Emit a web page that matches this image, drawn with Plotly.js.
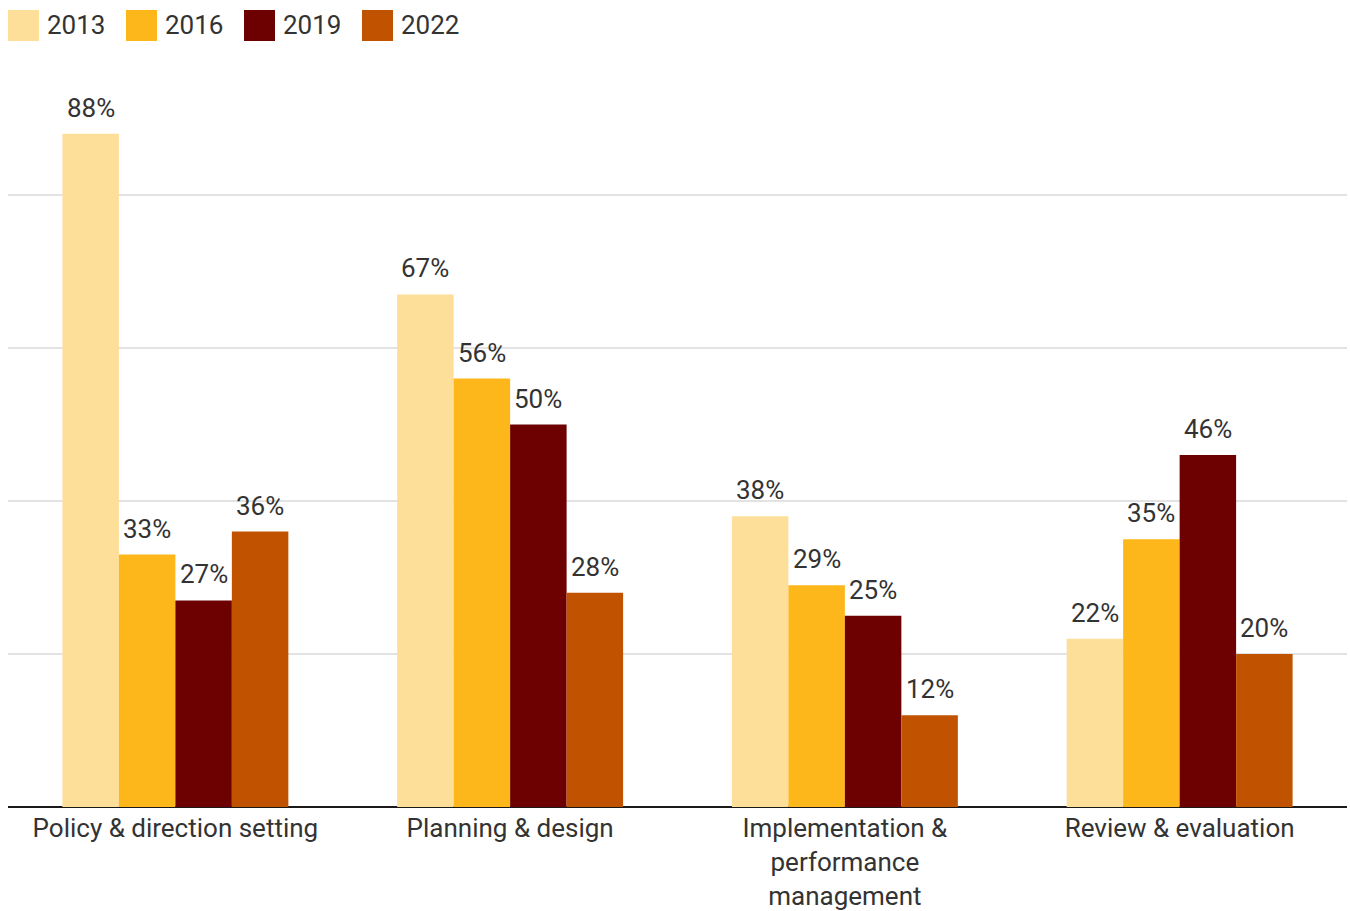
<!DOCTYPE html>
<html>
<head>
<meta charset="utf-8">
<script src="https://cdn.plot.ly/plotly-3.0.1.min.js"></script>
<style>html,body{margin:0;padding:0;background:#fff;}#chart{width:1350px;height:911px;}</style>
</head>
<body>
<div id="chart"></div>
<script>
const categories = ["Policy & direction setting", "Planning & design", "Implementation &<br>performance<br>management", "Review & evaluation"];
const seriesNames = ["2013", "2016", "2019", "2022"];
const values2013 = [88, 67, 38, 22];
const values2016 = [33, 56, 29, 35];
const values2019 = [27, 50, 25, 46];
const values2022 = [36, 28, 12, 20];
const colors = ["#FDDF99", "#FDB71A", "#6D0000", "#C15200"];

const seriesValues = [values2013, values2016, values2019, values2022];
const xIdx = categories.map((c, i) => i);
const bargap = 0.325;
const barW = (1 - bargap) / seriesNames.length;
const FONT = "Roboto, 'Open Sans', sans-serif";
const TXT = "#333333";

const traces = seriesNames.map((name, j) => ({
  type: "bar",
  name: name,
  x: xIdx,
  y: seriesValues[j],
  marker: {color: colors[j], line: {width: 0}},
  hoverinfo: "skip",
  showlegend: false
}));

const annotations = [];
seriesValues.forEach((vals, j) => {
  vals.forEach((v, i) => {
    annotations.push({
      x: i + (j - (seriesNames.length - 1) / 2) * barW,
      y: v,
      xref: "x", yref: "y",
      text: v + "%",
      showarrow: false,
      yanchor: "bottom",
      yshift: 9,
      font: {family: FONT, size: 26, color: TXT}
    });
  });
});

// custom legend (pixel layout converted to paper coords)
const L = 8, R = 3, T = 42, B = 104, W = 1350, H = 911;
const pw = W - L - R, ph = H - T - B;
const px2x = p => (p - L) / pw;
const py2y = p => (H - B - p) / ph;
const shapes = [];
seriesNames.forEach((name, j) => {
  const x0 = 8 + j * 118;
  shapes.push({
    type: "rect", xref: "paper", yref: "paper",
    x0: px2x(x0), x1: px2x(x0 + 31),
    y0: py2y(41), y1: py2y(10),
    fillcolor: colors[j], line: {width: 0}
  });
  annotations.push({
    xref: "paper", yref: "paper",
    x: px2x(x0 + 37), y: py2y(25),
    xanchor: "left", yanchor: "middle",
    text: name, showarrow: false,
    font: {family: FONT, size: 26, color: TXT}
  });
});

const layout = {
  width: W, height: H,
  margin: {l: L, r: R, t: T, b: B},
  paper_bgcolor: "#fff", plot_bgcolor: "#fff",
  barmode: "group",
  bargap: bargap,
  bargroupgap: 0,
  showlegend: false,
  xaxis: {
    tickvals: xIdx,
    ticktext: categories,
    range: [-0.5, categories.length - 0.5],
    showgrid: false,
    showline: false,
    zeroline: false,
    ticks: "",
    ticklabelstandoff: 3,
    tickfont: {family: FONT, size: 26, color: TXT},
    fixedrange: true
  },
  yaxis: {
    range: [0, 100],
    tickvals: [0, 20, 40, 60, 80],
    showticklabels: false,
    showgrid: true,
    gridcolor: "#e3e3e3",
    gridwidth: 2,
    zeroline: true,
    zerolinecolor: "#1a1a1a",
    zerolinewidth: 2.5,
    ticks: "",
    fixedrange: true
  },
  annotations: annotations,
  shapes: shapes,
  font: {family: FONT, color: TXT}
};

Plotly.newPlot("chart", traces, layout, {displayModeBar: false, staticPlot: true});
</script>
</body>
</html>
